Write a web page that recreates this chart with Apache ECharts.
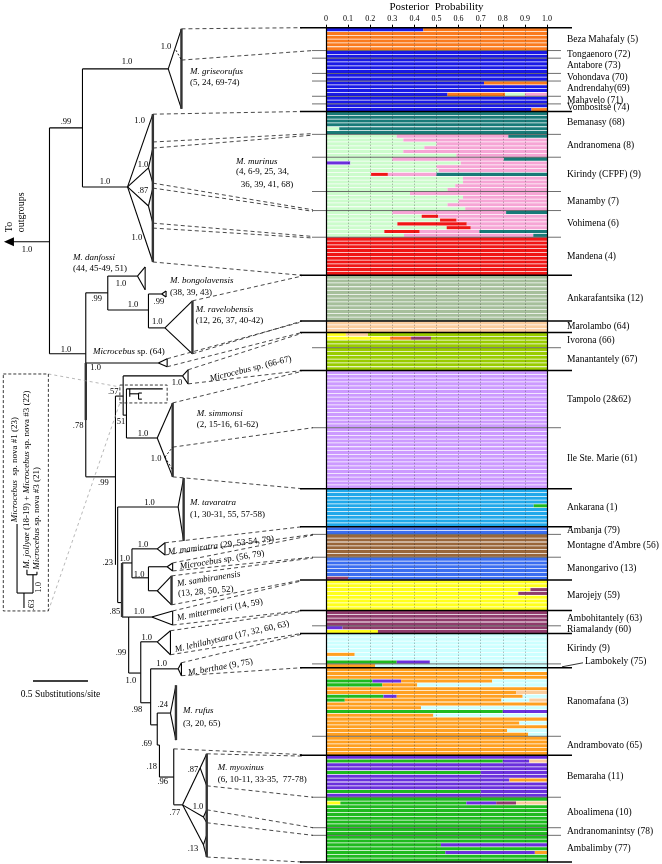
<!DOCTYPE html>
<html>
<head>
<meta charset="utf-8">
<script src="https://cdn.jsdelivr.net/npm/echarts@6/dist/echarts.min.js"></script>
<style>
  html, body { margin: 0; padding: 0; background: #fff; }
  #structure_con { width: 662px; height: 864px; }
</style>
</head>
<body>
<div id="structure_con"></div>
<script>
  const SERIF = 'Liberation Serif';
  const PLOT_LEFT = 326, PLOT_RIGHT = 547, PLOT_TOP = 27.7, PLOT_HEIGHT = 834.3;
  const TREE_MAX = 6.02;   // page width in substitutions/site (0.5 subst. = 55 px)

  // STRUCTURE clusters, in stacking order
  const clusterNames = ['blue', 'sky', 'yellow', 'green', 'purple', 'orangeRed', 'ltGreen', 'red', 'pink', 'teal',
    'orange', 'ltCyan', 'maroon', 'peach', 'yelGreen', 'blue2', 'sage', 'lavender', 'brown'];
  const clusterColors = ['#1a1ae6', '#21a8ea', '#ffff1c', '#1fba1f', '#6a30dc', '#fa7a1e', '#ccfccc', '#f01616', '#f6a5d5', '#197a78',
    '#ffa021', '#ccffff', '#8f3b6c', '#fbcd9d', '#99cc00', '#3b6ef0', '#a6bf9b', '#cc9aff', '#99663a'];

  const popNames = ['Beza Mahafaly (5)', 'Tongaenoro (72)', 'Antabore (73)', 'Vohondava (70)', 'Andrendahy(69)', 'Mahavelo (71)',
    'Vombositse (74)', 'Bemanasy (68)', 'Andranomena (8)', 'Kirindy (CFPF) (9)', 'Manamby (7)', 'Vohimena (6)', 'Mandena (4)',
    'Ankarafantsika (12)', 'Marolambo (64)', 'Ivorona (66)', 'Manantantely (67)', 'Tampolo (2&62)', 'Ile Ste. Marie (61)',
    'Ankarana (1)', 'Ambanja (79)', "Montagne d'Ambre (56)", 'Manongarivo (13)', 'Marojejy (59)', 'Ambohitantely (63)',
    'Riamalandy (60)', 'Kirindy (9)', 'Lambokely (75)', 'Ranomafana (3)', 'Andrambovato (65)', 'Bemaraha (11)',
    'Aboalimena (10)', 'Andranomanintsy (78)', 'Ambalimby (77)'];
  const popSizes = [6, 2, 4, 2, 4, 2, 2, 6, 6, 9, 5, 7, 10, 12, 3, 4, 6, 15, 16, 10, 2, 6, 6, 8, 4, 2, 8, 1, 18, 5, 11, 8, 2, 7];
  const popBase = ['orangeRed', 'blue', 'blue', 'blue', 'blue', 'blue', 'blue', 'teal', 'pink', 'pink', 'pink', 'pink', 'red',
    'sage', 'peach', 'yelGreen', 'yelGreen', 'lavender', 'lavender', 'sky', 'blue2', 'brown', 'blue2', 'yellow', 'maroon',
    'maroon', 'ltCyan', 'ltCyan', 'orange', 'orange', 'purple', 'green', 'green', 'green'];
  // species group of each population (a change of group = heavy line)
  const popGroup = [0, 0, 0, 0, 0, 0, 0, 1, 1, 1, 1, 1, 1, 2, 3, 4, 4, 5, 5, 6, 7, 7, 7, 8, 9, 9, 10, 10, 11, 11, 12, 12, 12, 12];

  // admixed individuals: [population, row in population, [cluster, share, ...]]; the rest is the base cluster
  const mixedRows = [
    [0, 0, ['blue', .44]],
    [4, 0, ['orangeRed', .285]], [4, 3, ['orangeRed', .26, 'ltGreen', .09, 'pink', .10]],
    [6, 1, ['orangeRed', .07]],
    [7, 4, ['ltGreen', .06]],
    [8, 0, ['ltGreen', .32, 'teal', .175]], [8, 1, ['ltGreen', .35]], [8, 2, ['ltGreen', .50]], [8, 3, ['ltGreen', .445]],
    [8, 4, ['ltGreen', .35]], [8, 5, ['ltGreen', .59]],
    [9, 0, ['ltGreen', .30, 'teal', .195]], [9, 1, ['purple', .11, 'ltGreen', .50]], [9, 2, ['ltGreen', .50]], [9, 3, ['ltGreen', .51]],
    [9, 4, ['ltGreen', .204, 'red', .076, 'teal', .50]], [9, 5, ['ltGreen', .62]], [9, 6, ['ltGreen', .62]], [9, 7, ['ltGreen', .585]],
    [9, 8, ['ltGreen', .55]],
    [10, 0, ['ltGreen', .38]], [10, 1, ['ltGreen', .62]], [10, 2, ['ltGreen', .60]], [10, 3, ['ltGreen', .55]], [10, 4, ['ltGreen', .63]],
    [11, 0, ['ltGreen', .30, 'teal', .185]], [11, 1, ['ltGreen', .433, 'red', .075]], [11, 2, ['ltGreen', .516, 'red', .075]],
    [11, 3, ['ltGreen', .323, 'red', .314]], [11, 4, ['ltGreen', .546, 'red', .109]], [11, 5, ['ltGreen', .264, 'red', .16, 'teal', .306]],
    [11, 6, ['ltGreen', .353, 'teal', .062]],
    [15, 0, ['yellow', .09, 'peach', .10]], [15, 1, ['yellow', .29, 'orangeRed', .095, 'maroon', .09]],
    [19, 4, ['green', .06]],
    [22, 5, ['maroon', .10]],
    [23, 2, ['maroon', .075]], [23, 3, ['maroon', .13]],
    [25, 0, ['purple', .075]], [25, 1, ['yellow', .235]],
    [26, 5, ['orange', .13]], [26, 7, ['green', .32, 'purple', .15]],
    [27, 0, ['orange', .223]],
    [28, 0, ['ltCyan', .20]], [28, 3, ['green', .21, 'purple', .13, 'ltCyan', .248]], [28, 4, ['green', .255, 'ltCyan', .587]],
    [28, 6, ['peach', .14]], [28, 7, ['green', .26, 'purple', .06, 'ltCyan', .11]], [28, 8, ['green', .085, 'ltCyan', .126, 'peach', .08]],
    [28, 10, ['ltCyan', .57]], [28, 11, ['green', .80, 'purple', .20]], [28, 12, ['ltCyan', .514]], [28, 14, ['ltCyan', .125]],
    [28, 16, ['ltCyan', .18]], [28, 17, ['ltCyan', .085]],
    [30, 1, ['green', .80, 'peach', .08]], [30, 4, ['green', .70]], [30, 6, ['orange', .17]], [30, 9, ['green', .70]],
    [31, 1, ['yellow', .065, 'purple', .135, 'maroon', .09, 'peach', .14]],
    [33, 2, ['purple', .48]], [33, 4, ['purple', .405, 'orange', .055]]
  ];

  // tree: x in substitutions/site from the left edge, y in sample rows
  const treeBranches = [
    [0.07, 56.2, 0.45, 56.2], [0.45, 26.3, 0.45, 85.6], [0.45, 26.3, 0.75, 26.3], [0.75, 10.8, 0.75, 41.8],
    [0.75, 10.8, 1.53, 10.8], [1.53, 10.8, 1.65, 0.3], [1.53, 10.8, 1.65, 21.3],
    [0.75, 41.8, 1.16, 41.8], [1.16, 41.8, 1.39, 22.7], [1.16, 41.8, 1.35, 36.8], [1.16, 41.8, 1.35, 46.8], [1.16, 41.8, 1.39, 61.5],
    [1.35, 36.8, 1.39, 31.6], [1.35, 36.8, 1.39, 40.8], [1.35, 46.8, 1.39, 42.1], [1.35, 46.8, 1.39, 51.3],
    [0.45, 85.6, 0.78, 85.6], [0.78, 69.6, 0.78, 117.9], [0.78, 69.6, 0.98, 69.6], [0.98, 65.2, 0.98, 74.1],
    [0.98, 65.2, 1.25, 65.2], [1.25, 65.2, 1.32, 62.8], [1.25, 65.2, 1.32, 68.8], [1.32, 62.8, 1.32, 68.8],
    [0.98, 74.1, 1.35, 74.1], [1.35, 69.9, 1.35, 78.8],
    [1.35, 69.9, 1.47, 69.9], [1.47, 69.9, 1.51, 69.1], [1.47, 69.9, 1.51, 70.7], [1.51, 69.1, 1.51, 70.7],
    [1.35, 78.8, 1.5, 78.8], [1.5, 78.8, 1.75, 71.7], [1.5, 78.8, 1.75, 85.6],
    [0.78, 88.0, 1.44, 88.0], [1.44, 88.0, 1.52, 86.9], [1.44, 88.0, 1.52, 89.0], [1.52, 86.9, 1.52, 89.0],
    [0.78, 117.9, 1.05, 117.9], [1.05, 96.7, 1.05, 141.0], [1.05, 96.7, 1.12, 96.7], [1.12, 91.4, 1.12, 101.7],
    [1.12, 91.4, 1.66, 91.4], [1.66, 91.4, 1.71, 89.8], [1.66, 91.4, 1.71, 93.5], [1.71, 89.8, 1.71, 93.5],
    [1.12, 101.7, 1.15, 101.7], [1.15, 94.8, 1.15, 107.7],
    [1.15, 94.8, 1.48, 94.8], [1.18, 94.8, 1.18, 96.9], [1.18, 96.1, 1.26, 96.1], [1.26, 95.9, 1.26, 97.5],
    [1.26, 95.9, 1.29, 95.9], [1.26, 97.5, 1.29, 97.5],
    [1.15, 107.7, 1.43, 107.7], [1.43, 107.7, 1.57, 98.5], [1.43, 107.7, 1.57, 117.9],
    [1.07, 125.8, 1.07, 150.9], [1.07, 125.8, 1.62, 125.8], [1.62, 125.8, 1.67, 118.2], [1.62, 125.8, 1.67, 134.7],
    [1.07, 150.9, 1.11, 150.9], [1.11, 140.5, 1.2, 140.5], [1.2, 136.8, 1.2, 144.4],
    [1.2, 136.8, 1.43, 136.8], [1.43, 136.8, 1.5, 135.2], [1.43, 136.8, 1.5, 138.4], [1.5, 135.2, 1.5, 138.4],
    [1.2, 144.4, 1.35, 144.4], [1.35, 141.5, 1.35, 147.8],
    [1.35, 141.5, 1.52, 141.5], [1.52, 141.5, 1.57, 140.5], [1.52, 141.5, 1.57, 142.6], [1.57, 140.5, 1.57, 142.6],
    [1.35, 147.8, 1.43, 147.8], [1.43, 147.8, 1.56, 143.9], [1.43, 147.8, 1.56, 151.5],
    [1.11, 154.7, 1.17, 154.7], [1.17, 154.7, 1.17, 169.4],
    [1.17, 154.7, 1.38, 154.7], [1.38, 154.7, 1.57, 153.1], [1.38, 154.7, 1.57, 156.8], [1.57, 153.1, 1.57, 156.8],
    [1.17, 169.4, 1.28, 169.4], [1.28, 161.2, 1.28, 177.2],
    [1.28, 161.2, 1.43, 161.2], [1.43, 161.2, 1.55, 158.3], [1.43, 161.2, 1.55, 164.6], [1.55, 158.3, 1.55, 164.6],
    [1.28, 177.2, 1.37, 177.2], [1.37, 168.3, 1.37, 183.0],
    [1.37, 168.3, 1.62, 168.3], [1.62, 168.3, 1.65, 166.7], [1.62, 168.3, 1.65, 170.1], [1.65, 166.7, 1.65, 170.1],
    [1.37, 183.0, 1.43, 183.0], [1.43, 179.9, 1.43, 188.3],
    [1.43, 179.9, 1.55, 179.9], [1.55, 179.9, 1.6, 172.6], [1.55, 179.9, 1.6, 187.0],
    [1.43, 188.3, 1.45, 188.3], [1.45, 188.3, 1.45, 196.7], [1.45, 196.7, 1.58, 196.7], [1.58, 189.3, 1.58, 204.0],
    [1.58, 204.0, 1.66, 204.0], [1.66, 204.0, 1.82, 194.3], [1.82, 194.3, 1.88, 190.6], [1.82, 194.3, 1.88, 199.0],
    [1.66, 204.0, 1.85, 207.2], [1.85, 207.2, 1.88, 205.3], [1.85, 207.2, 1.88, 208.7],
    [1.66, 204.0, 1.85, 214.5], [1.85, 214.5, 1.88, 211.9], [1.85, 214.5, 1.88, 217.7],
    // inset clade (drawn upright)
    [0.155, 130.3, 0.155, 148.4], [0.155, 148.4, 0.3, 148.4], [0.3, 143.6, 0.3, 148.4], [0.245, 143.6, 0.336, 143.6],
    [0.245, 142.3, 0.245, 143.6], [0.336, 142.8, 0.336, 143.6], [0.218, 148.4, 0.218, 152.3]
  ];
  const thickBranches = [
    [1.65, 0.3, 1.65, 21.3], [1.39, 22.7, 1.39, 61.5], [1.75, 71.7, 1.75, 85.6], [1.57, 98.5, 1.57, 117.9],
    [1.67, 118.2, 1.67, 134.7], [1.56, 143.9, 1.56, 151.5], [1.6, 172.6, 1.6, 187.0], [1.88, 190.6, 1.88, 217.7],
    [0.78, 88.0, 0.78, 103.0], [1.11, 140.5, 1.11, 154.7]
  ];
  const dashedBranches = [
    [1.6, 5.9, 1.65, 8.5], [1.5, 112.7, 1.57, 110.1], [1.5, 112.7, 1.57, 116.1]
  ];
  // clade edge -> sample row boundary on the plot; 1 = reaches the long line
  const connectors = [
    [1.65, 0.3, 0, 1], [1.65, 8.5, 6, 0],
    [1.39, 22.7, 22, 1], [1.39, 30.0, 27.8, 0], [1.39, 31.6, 28.2, 0], [1.39, 40.8, 47.8, 0], [1.39, 42.1, 48.2, 0],
    [1.39, 51.3, 54.8, 0], [1.39, 52.6, 55.2, 0], [1.39, 61.5, 65, 1],
    [1.75, 71.7, 65.2, 1], [1.75, 85.6, 77, 1], [1.52, 86.9, 77.2, 1], [1.52, 89.0, 80, 1],
    [1.71, 89.8, 80.2, 1], [1.71, 93.5, 90, 1],
    [1.57, 98.5, 90.2, 1], [1.57, 110.1, 105, 0], [1.57, 117.9, 121, 1],
    [1.5, 135.2, 131, 1], [1.5, 138.4, 133, 0], [1.57, 140.5, 133.2, 0], [1.57, 142.6, 139, 0],
    [1.56, 143.9, 139.2, 0], [1.56, 151.5, 145, 1], [1.57, 153.1, 145.2, 1], [1.57, 156.8, 153, 1],
    [1.55, 158.3, 153.2, 1], [1.55, 164.6, 159, 1], [1.65, 166.7, 159.2, 1], [1.65, 170.1, 168, 1],
    [1.58, 189.3, 190.8, 1], [1.88, 190.6, 191.2, 1], [1.88, 199.0, 202, 0], [1.88, 205.3, 210, 0],
    [1.88, 208.7, 212, 0], [1.88, 217.7, 219, 1]
  ];
  const guideLines = [[0.44, 90.9, 1.09, 94.3], [0.44, 153.1, 1.09, 98.5]];
  const dashedBoxes = [[0.03, 90.9, 0.44, 153.1], [1.09, 93.8, 1.52, 98.5]];
  const scaleBar = [0.3, 171.5, 0.8, 171.5];

  const supportValues = [
    [0.245, 58.3, '1.0'], [0.6, 24.8, '.99'], [1.155, 9.0, '1.0'], [1.51, 5.1, '1.0'], [0.955, 40.5, '1.0'], [1.27, 24.5, '1.0'],
    [1.3, 36.0, '1.0'], [1.3, 42.9, '.87'], [1.245, 55.2, '1.0'], [0.6, 84.6, '1.0'], [0.88, 71.2, '.99'], [1.1, 67.3, '1.0'],
    [1.21, 72.8, '1.0'], [1.445, 72.0, '.99'], [1.43, 77.3, '1.0'], [0.87, 89.3, '1.0'], [1.03, 95.6, '.57'], [1.09, 103.5, '.51'],
    [0.71, 104.5, '.78'], [1.61, 93.3, '1.0'], [1.3, 106.6, '1.0'], [1.42, 113.2, '1.0'], [0.94, 119.5, '.99'], [1.36, 124.8, '1.0'],
    [0.98, 140.5, '.23'], [1.3, 135.8, '1.0'], [1.135, 139.4, '1.0'], [1.265, 143.6, '1.0'], [1.045, 153.4, '.85'],
    [1.265, 153.4, '1.0'], [1.1, 164.1, '.99'], [1.335, 160.2, '1.0'], [1.19, 171.5, '1.0'], [1.47, 167.0, '1.0'],
    [1.245, 179.1, '.98'], [1.48, 177.8, '.24'], [1.335, 188.0, '.69'], [1.38, 194.0, '.18'], [1.48, 198.0, '.96'],
    [1.59, 206.1, '.77'], [1.755, 194.8, '.87'], [1.8, 204.5, '1.0'], [1.755, 215.6, '.13']
  ];
  const cladeLabels = [
    [1.727, 11.6, '{i|M. griseorufus}'], [1.727, 14.3, '(5, 24, 69-74)'],
    [2.145, 35.2, '{i|M. murinus}'], [2.145, 37.9, '(4, 6-9, 25, 34,'], [2.19, 41.3, '36, 39, 41, 68)'],
    [0.664, 60.3, '{i|M. danfossi}'], [0.664, 63.2, '(44, 45-49, 51)'],
    [1.545, 66.4, '{i|M. bongolavensis}'], [1.545, 69.6, '(38, 39, 43)'],
    [1.78, 74.1, '{i|M. ravelobensis}'], [1.78, 77.0, '(12, 26, 37, 40-42)'],
    [0.845, 85.1, '{i|Microcebus} sp. (64)'],
    [1.79, 101.4, '{i|M. simmonsi}'], [1.79, 104.3, '(2, 15-16, 61-62)'],
    [1.727, 124.8, '{i|M. tavaratra}'], [1.727, 127.9, '(1, 30-31, 55, 57-58)'],
    [1.664, 179.3, '{i|M. rufus}'], [1.664, 182.8, '(3, 20, 65)'],
    [1.98, 194.3, '{i|M. myoxinus}'], [1.98, 197.5, '(6, 10-11, 33-35,  77-78)']
  ];
  const slantedLabels = [
    [1.91, 92.2, '{i|Microcebus} sp. (66-67)', 14], [1.527, 137.6, '{i|M. mamiratra} (29, 53-54, 79)', 7],
    [1.636, 141.5, '{i|Microcebus} sp. (56, 79)', 9], [1.61, 146.0, '{i|M. sambiranensis}', 9],
    [1.62, 148.6, '(13, 28, 50, 52)', 5], [1.61, 155.0, '{i|M. mittermeieri} (14, 59)', 11],
    [1.59, 163.3, '{i|M. lehilahytsara} (17, 32, 60, 63)', 13], [1.71, 169.4, '{i|M. berthae} (9, 75)', 10]
  ];
  const uprightLabels = [
    [0.082, 53.7, 'To', 10], [0.19, 53.7, 'outgroups', 10],
    [0.136, 129.8, '{i|Microcebus}  sp. nova #1 (23)', 9],
    [0.245, 142.0, '{i|M. jollyae} (18-19) + {i|Microcebus} sp. nova #3 (22)', 9],
    [0.336, 142.3, '{i|Microcebus} sp. nova #3 (21)', 9]
  ];
  const uprightSupport = [[0.35, 146.9, '1.0'], [0.285, 151.5, '.63']];

  // ---- build the per-individual shares
  const K = clusterNames.length;
  const ci = function (name) { return clusterNames.indexOf(name); };
  const popStart = [];
  const rowShares = [];
  popSizes.forEach(function (n, p) {
    popStart.push(rowShares.length);
    for (let r = 0; r < n; r++) {
      const s = new Array(K).fill(0);
      s[ci(popBase[p])] = 1;
      rowShares.push(s);
    }
  });
  mixedRows.forEach(function (m) {
    const s = rowShares[popStart[m[0]] + m[1]];
    let rest = 1;
    for (let i = 0; i < m[2].length; i += 2) {
      s[ci(m[2][i])] += m[2][i + 1];
      rest -= m[2][i + 1];
    }
    s[ci(popBase[m[0]])] = Math.max(0, +rest.toFixed(4));
  });
  const nRows = rowShares.length;
  const rowIds = rowShares.map(function (s, i) { return String(i); });

  const boundaries = [[0, 1]];
  popSizes.forEach(function (n, p) {
    const next = p + 1 < popSizes.length ? popGroup[p + 1] : -1;
    boundaries.push([popStart[p] + n, next !== popGroup[p] ? 1 : 0]);
  });

  // ---- drawing helpers
  function textEl(pos, str, size, align, rot) {
    return {
      type: 'text', x: pos[0], y: pos[1], rotation: (rot || 0) * Math.PI / 180,
      style: {
        text: str, fill: '#000', fontFamily: SERIF, fontSize: size, align: align || 'left', verticalAlign: 'middle',
        rich: { i: { fontStyle: 'italic', fontFamily: SERIF, fontSize: size, fill: '#000' } }
      }
    };
  }
  function overlay(items, render, z) {
    return {
      type: 'custom', xAxisIndex: 1, yAxisIndex: 2, z: z || 5, silent: true, animation: false,
      data: items.map(function (d, i) { return [i]; }),
      renderItem: function (params, api) { return render(items[params.dataIndex], api); }
    };
  }
  function segLayer(segs, style, z) {
    return overlay(segs, function (s, api) {
      const a = api.coord([s[0], s[1]]);
      const b = api.coord([s[2], s[3]]);
      return {
        type: 'line', shape: { x1: a[0], y1: a[1], x2: b[0], y2: b[1] },
        style: Object.assign({ stroke: '#000', lineWidth: 1 }, style)
      };
    }, z);
  }

  let structureChart = echarts.init(document.getElementById('structure_con'));

  const barSeries = clusterNames.map(function (name, k) {
    return {
      name: name, type: 'bar', stack: 'pp', xAxisIndex: 0, yAxisIndex: 0,
      barCategoryGap: '20%', silent: true, animation: false,
      itemStyle: { color: clusterColors[k] },
      data: rowShares.map(function (s) { return s[k]; })
    };
  });

  const option = {
    animation: false,
    textStyle: { fontFamily: SERIF },
    grid: [
      { left: PLOT_LEFT, top: PLOT_TOP, width: PLOT_RIGHT - PLOT_LEFT, height: PLOT_HEIGHT, outerBoundsMode: 'none' },
      { left: 0, top: PLOT_TOP, width: 662, height: PLOT_HEIGHT, outerBoundsMode: 'none' }
    ],
    xAxis: [
      {
        type: 'value', gridIndex: 0, position: 'top', min: 0, max: 1, interval: 0.1, z: 10,
        name: 'Posterior  Probability', nameLocation: 'middle', nameGap: 15, nameMoveOverlap: false,
        nameTextStyle: { fontFamily: SERIF, fontSize: 11, color: '#000' },
        axisLine: { show: true, lineStyle: { color: '#000', width: 1 } },
        axisTick: { show: true, length: 3, lineStyle: { color: '#000' } },
        axisLabel: {
          fontFamily: SERIF, fontSize: 8, color: '#000', margin: 5,
          formatter: function (v) { return v === 0 ? '0' : (Math.round(v * 10) / 10).toFixed(1); }
        },
        splitLine: { show: true, lineStyle: { color: 'rgba(0,0,0,0.45)', type: [1, 2], width: 0.8 } }
      },
      { type: 'value', gridIndex: 1, min: 0, max: TREE_MAX, show: false }
    ],
    yAxis: [
      {
        type: 'category', gridIndex: 0, data: rowIds, inverse: true, z: 10,
        axisLine: { show: true, lineStyle: { color: '#000', width: 1.2 } },
        axisTick: { show: false }, axisLabel: { show: false }, splitLine: { show: false }
      },
      {
        type: 'category', gridIndex: 0, data: rowIds, inverse: true, position: 'right', z: 10,
        axisLine: { show: true, lineStyle: { color: '#000', width: 1.2 } },
        axisTick: { show: false }, axisLabel: { show: false }, splitLine: { show: false }
      },
      { type: 'value', gridIndex: 1, min: 0, max: nRows, inverse: true, show: false }
    ],
    series: barSeries.concat([
      // population boundaries
      overlay(boundaries, function (b, api) {
        const y = api.coord([0, b[0]])[1];
        return b[1]
          ? { type: 'line', shape: { x1: PLOT_LEFT - 26, y1: y, x2: PLOT_RIGHT + 25, y2: y }, style: { stroke: '#000', lineWidth: 1.5 } }
          : { type: 'line', shape: { x1: PLOT_LEFT - 14, y1: y, x2: PLOT_RIGHT + 14, y2: y }, style: { stroke: 'rgba(40,40,40,0.75)', lineWidth: 0.9 } };
      }, 6),
      // population names
      overlay(popNames.map(function (n, p) { return [popStart[p] + popSizes[p] / 2, n, popSizes[p]]; }), function (d, api) {
        const y = api.coord([0, d[0]])[1];
        if (d[2] === 1) {
          return {
            type: 'group', children: [
              { type: 'line', shape: { x1: PLOT_RIGHT + 36, y1: y - 3, x2: PLOT_RIGHT + 15, y2: y + 1 }, style: { stroke: '#000', lineWidth: 0.8 } },
              textEl([PLOT_RIGHT + 38, y - 4], d[1], 9.5)
            ]
          };
        }
        return textEl([PLOT_RIGHT + 20, y], d[1], 9.5);
      }, 6),
      segLayer(treeBranches, { lineWidth: 1.1 }),
      segLayer(thickBranches, { lineWidth: 2.4, stroke: '#333' }),
      segLayer(dashedBranches, { lineWidth: 0.9, lineDash: [2, 2] }),
      segLayer(guideLines, { lineWidth: 0.7, stroke: '#999', lineDash: [3, 3] }),
      overlay(connectors, function (c, api) {
        const a = api.coord([c[0], c[1]]);
        const y = api.coord([0, c[2]])[1];
        const x = PLOT_LEFT - (c[3] ? 24 : 13);
        return {
          type: 'line', shape: { x1: a[0], y1: a[1], x2: x, y2: y },
          style: { stroke: '#333', lineWidth: 0.9, lineDash: [4, 3] }
        };
      }),
      overlay(dashedBoxes, function (b, api) {
        const a = api.coord([b[0], b[1]]);
        const c = api.coord([b[2], b[3]]);
        return {
          type: 'rect', shape: { x: a[0], y: a[1], width: c[0] - a[0], height: c[1] - a[1] },
          style: { fill: 'none', stroke: '#222', lineWidth: 0.9, lineDash: [3, 2] }
        };
      }),
      // root arrow, scale bar
      overlay([scaleBar], function (s, api) {
        const a = api.coord([s[0], s[1]]);
        const b = api.coord([s[2], s[3]]);
        const tip = api.coord([0.036, 56.2]);
        return {
          type: 'group', children: [
            { type: 'line', shape: { x1: a[0], y1: a[1], x2: b[0], y2: b[1] }, style: { stroke: '#000', lineWidth: 1.6 } },
            textEl([(a[0] + b[0]) / 2, a[1] + 13], '0.5 Substitutions/site', 9.5, 'center'),
            { type: 'polygon', shape: { points: [[tip[0], tip[1]], [tip[0] + 10, tip[1] - 4.5], [tip[0] + 10, tip[1] + 4.5]] }, style: { fill: '#000' } }
          ]
        };
      }),
      overlay(supportValues, function (d, api) {
        return textEl(api.coord([d[0], d[1]]), d[2], 8.5, 'center');
      }, 7),
      overlay(cladeLabels, function (d, api) {
        return textEl(api.coord([d[0], d[1]]), d[2], 9);
      }, 7),
      overlay(slantedLabels, function (d, api) {
        return textEl(api.coord([d[0], d[1]]), d[2], 9, 'left', d[3]);
      }, 7),
      overlay(uprightLabels, function (d, api) {
        return textEl(api.coord([d[0], d[1]]), d[2], d[3], 'left', 90);
      }, 7),
      overlay(uprightSupport, function (d, api) {
        return textEl(api.coord([d[0], d[1]]), d[2], 8.5, 'center', 90);
      }, 7)
    ])
  };

  structureChart.setOption(option);

  window.addEventListener('resize', function () {
    structureChart.resize();
  });
</script>
</body>
</html>
